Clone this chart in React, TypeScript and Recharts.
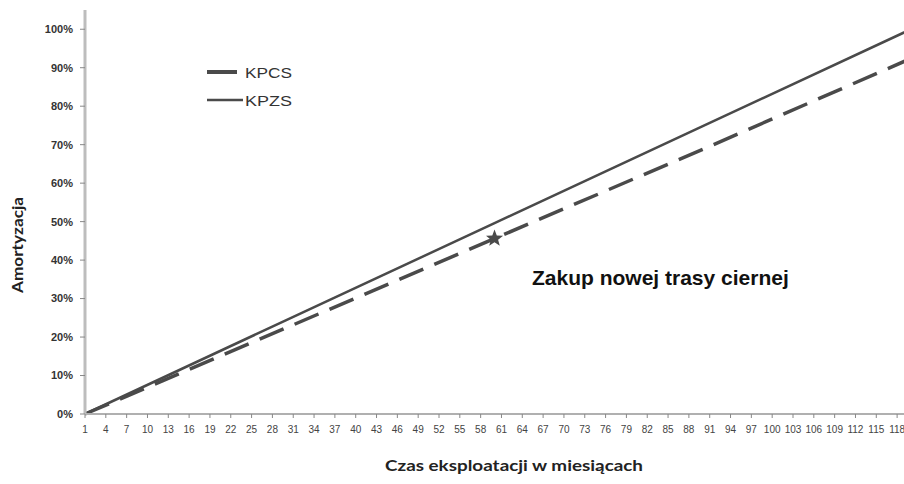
import { LineChart, Line, XAxis, YAxis } from 'recharts'

const months = [1, 30, 60, 90, 120]
const kpzs = [0, 24.4, 49.6, 74.8, 100]
const kpcs = [0, 22.4, 45.6, 68.8, 92.4]
const starMonth = 60

const monthTicks = [
  1, 4, 7, 10, 13, 16, 19, 22, 25, 28, 31, 34, 37, 40, 43, 46, 49, 52, 55, 58,
  61, 64, 67, 70, 73, 76, 79, 82, 85, 88, 91, 94, 97, 100, 103, 106, 109, 112, 115, 118,
]
const pctTicks = [0, 10, 20, 30, 40, 50, 60, 70, 80, 90, 100]

const rows = months.map((m, i) => ({ month: m, KPZS: kpzs[i], KPCS: kpcs[i] }))

const LINE = '#4a4a4a'
const FONT = '"Liberation Sans", Arial, sans-serif'

function starPath(cx: number, cy: number, r: number) {
  const pts: string[] = []
  for (let i = 0; i < 10; i++) {
    const rad = i % 2 === 0 ? r : r * 0.42
    const a = -Math.PI / 2 + (i * Math.PI) / 5
    pts.push(`${(cx + rad * Math.cos(a)).toFixed(1)},${(cy + rad * Math.sin(a)).toFixed(1)}`)
  }
  return `M${pts.join('L')}Z`
}

function LegendBox() {
  return (
    <svg width={110} height={50} style={{ display: 'block' }}>
      <line x1={7} y1={9} x2={37} y2={9} stroke={LINE} strokeWidth={4} />
      <text x={45} y={15} fontFamily={FONT} fontSize={15} fill="#333" textLength={47} lengthAdjust="spacingAndGlyphs">
        KPCS
      </text>
      <line x1={7} y1={37} x2={43} y2={37} stroke={LINE} strokeWidth={2.5} />
      <text x={45} y={43} fontFamily={FONT} fontSize={15} fill="#333" textLength={47} lengthAdjust="spacingAndGlyphs">
        KPZS
      </text>
    </svg>
  )
}

export default function App() {
  return (
    <div
      style={{
        position: 'absolute',
        left: 0,
        top: 0,
        width: 904,
        height: 484,
        overflow: 'hidden',
        background: '#fff',
      }}
    >
      <LineChart width={920} height={484} data={rows} margin={{ top: 10, right: 9, left: 0, bottom: 0 }}>
        <XAxis
          dataKey="month"
          type="number"
          domain={[1, 120]}
          ticks={monthTicks}
          interval={0}
          height={70}
          axisLine={{ stroke: '#b0b0b0', strokeWidth: 2 }}
          tickLine={{ stroke: '#888' }}
          tickSize={4}
          tickMargin={8}
          tick={{ fontSize: 10, fill: '#444', fontFamily: FONT }}
          label={{
            content: () => (
              <text
                x={514}
                y={471}
                textAnchor="middle"
                fontFamily="Lato, sans-serif"
                fontWeight="bold"
                fontSize={16}
                fill="#222"
                textLength={258}
                lengthAdjust="spacingAndGlyphs"
              >
                Czas eksploatacji  w miesiącach
              </text>
            ),
          }}
        />
        <YAxis
          width={85}
          domain={[0, 105]}
          ticks={pctTicks}
          interval={0}
          axisLine={{ stroke: '#bdbdbd', strokeWidth: 3 }}
          tickLine={{ stroke: '#888' }}
          tickSize={5}
          tickMargin={7}
          tick={{ fontSize: 11, fill: '#333', fontFamily: FONT, fontWeight: 'bold' }}
          tickFormatter={(v: number) => `${v}%`}
          label={{
            content: () => (
              <text
                x={23}
                y={245}
                transform="rotate(-90 23 245)"
                textAnchor="middle"
                fontFamily="Lato, sans-serif"
                fontWeight="bold"
                fontSize={15}
                fill="#222"
                textLength={96}
                lengthAdjust="spacingAndGlyphs"
              >
                Amortyzacja
              </text>
            ),
          }}
        />
        <Line
          dataKey="KPZS"
          type="linear"
          stroke={LINE}
          strokeWidth={2.5}
          dot={false}
          isAnimationActive={false}
        />
        <Line
          dataKey="KPCS"
          type="linear"
          stroke={LINE}
          strokeWidth={3.5}
          strokeDasharray="26 12"
          isAnimationActive={false}
          dot={(p: any) =>
            p.payload.month === starMonth ? (
              <path key={`star-${p.index}`} d={starPath(p.cx, p.cy, 9)} fill={LINE} />
            ) : (
              <g key={`d-${p.index}`} />
            )
          }
        />
      </LineChart>
      <div style={{ position: 'absolute', left: 200, top: 63 }}>
        <LegendBox />
      </div>
      <div
        style={{
          position: 'absolute',
          left: 532,
          top: 266,
          fontFamily: FONT,
          fontWeight: 'bold',
          fontSize: 21,
          color: '#111',
          whiteSpace: 'nowrap',
        }}
      >
        Zakup nowej trasy ciernej
      </div>
    </div>
  )
}
